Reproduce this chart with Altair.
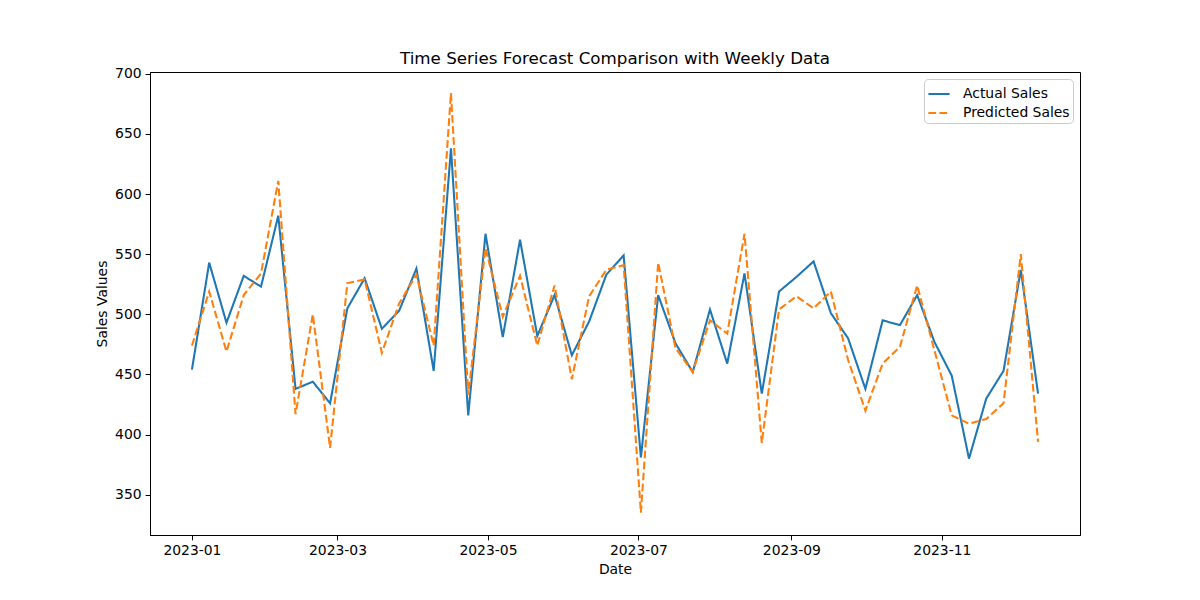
import altair as alt
import pandas as pd

dates = pd.date_range("2023-01-01", periods=50, freq="7D").strftime("%Y-%m-%d").tolist()

actual = [454, 543, 493, 532, 523, 582, 438, 444, 426, 505,
          530, 488, 503, 538, 453, 638, 416, 567, 481, 562,
          482, 516, 466, 494, 533, 549, 381, 516, 476, 452,
          504, 459, 534, 434, 519, 531, 544, 501, 480, 438,
          495, 491, 516, 477, 449, 380, 430, 453, 537, 434]

predicted = [474, 519, 469, 516, 534, 611, 417, 500, 389, 526,
             529, 468, 509, 533, 474, 684, 433, 555, 498, 532,
             474, 524, 446, 515, 537, 541, 335, 543, 472, 452,
             495, 484, 567, 393, 504, 515, 505, 519, 462, 420,
             459, 473, 524, 470, 416, 409, 413, 426, 550, 394]

series_names = ["Actual Sales", "Predicted Sales"]
series_colors = ["#1f77b4", "#ff7f0e"]
series_dash = [[1, 0], [7.7, 3.3]]

rows = []
for d, a, p in zip(dates, actual, predicted):
    rows.append({"date": d, "value": a, "series": series_names[0]})
    rows.append({"date": d, "value": p, "series": series_names[1]})
df = pd.DataFrame(rows)

xticks = [alt.DateTime(year=2023, month=m, date=1, utc=True) for m in [1, 3, 5, 7, 9, 11]]
yticks = [350, 400, 450, 500, 550, 600, 650, 700]

FONT = "DejaVu Sans"

chart = alt.Chart(df).mark_line(strokeWidth=2.08).encode(
    x=alt.X("date:T",
            scale=alt.Scale(type="utc",
                            domain=[alt.DateTime(year=2022, month=12, date=15, utc=True),
                                    alt.DateTime(year=2023, month=12, date=27, utc=True)],
                            nice=False),
            axis=alt.Axis(title="Date", values=xticks,
                          labelExpr="utcFormat(datum.value, '%Y-%m')",
                          grid=False)),
    y=alt.Y("value:Q",
            scale=alt.Scale(domain=[316.5, 701.5], nice=False, zero=False),
            axis=alt.Axis(title="Sales Values", values=yticks, grid=False)),
    color=alt.Color("series:N", scale=alt.Scale(domain=series_names, range=series_colors),
                    legend=alt.Legend(title=None)),
    strokeDash=alt.StrokeDash("series:N", scale=alt.Scale(domain=series_names, range=series_dash),
                              legend=alt.Legend(title=None)),
    detail="series:N",
).properties(
    width=930,
    height=463,
    title=alt.TitleParams("Time Series Forecast Comparison with Weekly Data",
                          fontSize=16.7, fontWeight="normal", font=FONT,
                          anchor="middle", offset=-1, color="black"),
    autosize=alt.AutoSizeParams(type="none"),
    padding={"left": 142, "top": 64, "right": 20, "bottom": 60},
).configure_view(
    stroke="black", strokeWidth=1
).configure_axis(
    domainColor="black", domainWidth=1, tickColor="black", tickSize=4.9, tickWidth=1,
    labelFont=FONT, labelFontSize=13.9, labelColor="black", labelPadding=4,
    titleFont=FONT, titleFontSize=13.9, titleFontWeight="normal", titleColor="black",
    titlePadding=5,
).configure_legend(
    orient="top-right", offset=7, fillColor="white", strokeColor="#cccccc",
    cornerRadius=4, padding=3, symbolType="stroke", symbolSize=450,
    symbolStrokeWidth=2.08, labelFont=FONT, labelFontSize=13.9, labelColor="black",
    rowPadding=0, labelOffset=12,
)

chart.save("out.html", embed_options={"renderer": "svg", "actions": False})
